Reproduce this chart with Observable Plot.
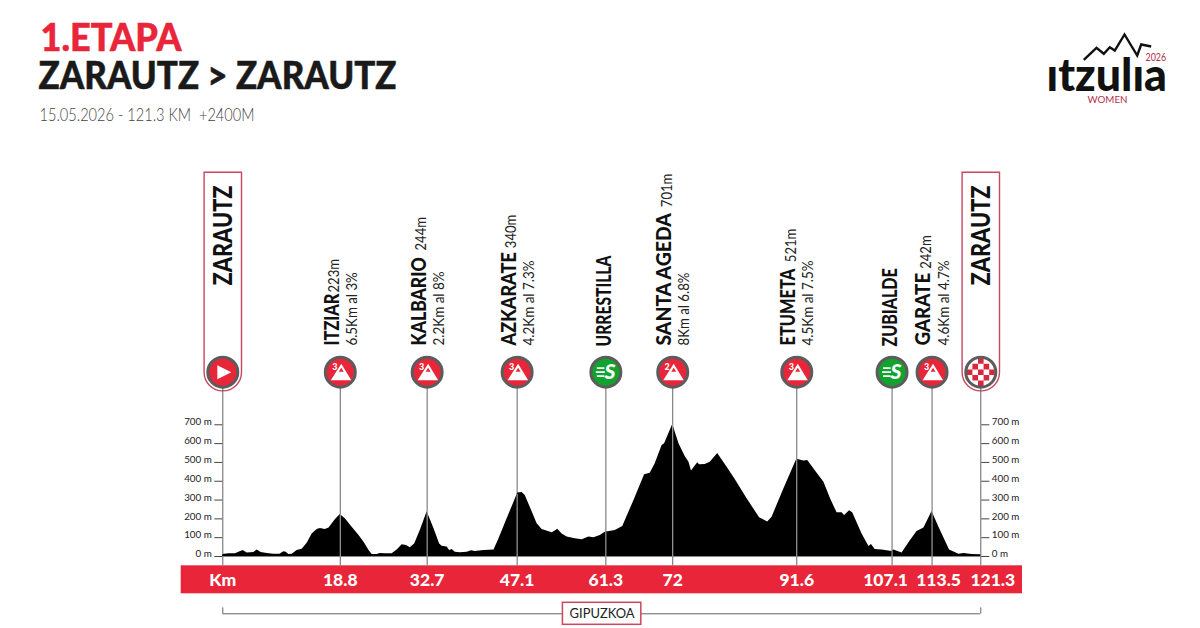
<!DOCTYPE html>
<html><head><meta charset="utf-8">
<script src="https://cdn.jsdelivr.net/npm/d3@7"></script>
<script src="https://cdn.jsdelivr.net/npm/@observablehq/plot@0.6"></script>
<style>html,body{margin:0;padding:0;background:#fff}svg{display:block}</style>
</head><body><div id="chart"></div>
<script>
const profileKm = [0,0.97,2.03,2.57,3.26,3.9,4.97,5.5,6.14,7.1,8.17,9.13,9.77,10.14,10.57,11.1,11.9,12.7,13.5,14.3,15.1,15.6,16.4,17,18,18.8,19.6,20.7,21.8,22.6,23.4,23.9,24.7,25.2,26,27.1,27.9,28.7,29.4,30,30.7,31.6,32.7,33.8,34.7,35.1,35.9,36.3,36.7,37.2,38,39.1,39.8,40.4,41.8,43.4,44.2,45.5,46.6,47.2,47.9,48.4,49.2,50.3,51.1,52.7,53.2,53.6,54.3,55.1,56.4,57.5,58.6,59.4,60.4,61.2,62.8,64,65.8,67.5,68.4,69.2,70.3,70.7,72,73,74,74.6,75,76,76.3,77.2,78,79.2,80.7,82,83.9,85.9,87.2,87.9,89.8,91.85,93,93.6,95.2,96.2,97.25,98.3,99.1,99.5,100.3,100.8,102.3,103.4,103.8,104.4,105.5,107.1,107.4,108.7,110.05,111.1,112.2,113.5,114.6,116.3,117.8,118.6,119.9,121.3];
const profileM = [11,14,14,23,32,19,21,35,21,16,12,12,25,23,11,12,32,39,71,120,144,149,144,152,195,223,200,156,112,76,32,11,11,16,14,14,35,62,58,46,67,138,238,147,67,55,50,32,37,23,20,23,30,27,32,35,94,200,289,338,340,324,262,174,144,126,135,145,120,103,94,89,103,99,112,129,138,159,298,434,443,493,590,599,701,599,532,501,454,498,487,489,501,548,475,409,307,206,183,209,360,517,507,510,439,395,307,232,232,218,243,232,120,53,64,37,34,27,35,19,85,133,151,239,156,35,12,16,11,9];

const elevationTicks = [0,100,200,300,400,500,600,700];

const stops = ["Km","18.8","32.7","47.1","61.3","72","91.6","107.1","113.5","121.3"];
const stopKm = [0,18.8,32.7,47.1,61.3,72,91.85,107.1,113.5,121.3];
const stopLabelShift = [0,0,0,0,0,0,0,-6.5,6.5,12];

const climbNames = ["ITZIAR","KALBARIO","AZKARATE","SANTA AGEDA","ETUMETA","GARATE"];
const climbKm = [18.8,32.7,47.1,72,91.85,113.5];
const climbHeights = ["223m","244m","340m","701m","521m","242m"];
const climbDetails = ["6.5Km al 3%","2.2Km al 8%","4.2Km al 7.3%","8Km al 6.8%","4.5Km al 7.5%","4.6Km al 4.7%"];
const climbCats = ["3","3","3","2","3","3"];
const heightLabelBottom = [292,250,247.7,206.7,261.7,268.3];
const nameLength = [52,88.3,93.3,132.3,76.7,72.7];
const detailLength = [73.3,74,85,73,85,85];

const sprintNames = ["URRESTILLA","ZUBIALDE"];
const sprintKm = [61.3,107.1];
const sprintLength = [91,78.3];

const endNames = ["ZARAUTZ","ZARAUTZ"];
const endKm = [0,121.3];

const title1 = "1.ETAPA";
const title2 = "ZARAUTZ > ZARAUTZ";
const subtitle = "15.05.2026 - 121.3 KM  +2400M";
const region = "GIPUZKOA";

const RED = "#e9253a", GREEN = "#12a32f", RING = "#5c5c5c", PILL = "#c9475f";
const HEAD = "Lato, 'Open Sans', sans-serif";
const mT = 424.3, mL = 222.3, mR = 219.7, mB = 72;
const fromTop = y => y - mT;
const iconY = fromTop(371.7);

const sym = draw => ({draw});
const pillSymbol = sym(c => { const r=18.7; c.moveTo(-r,-200); c.lineTo(r,-200); c.lineTo(r,0); c.arc(0,0,r,0,Math.PI); c.closePath(); });
const playSymbol = sym(c => { c.moveTo(-5.5,-7); c.lineTo(8.5,0); c.lineTo(-5.5,7); c.closePath(); });
const mountainSymbol = sym(c => {
  c.moveTo(1,-8.5); c.lineTo(11,8); c.lineTo(-9.5,8); c.closePath();
  c.moveTo(1,-4.5); c.lineTo(-1.5,-0.5); c.lineTo(3.5,-0.5); c.closePath();
});
const speedSymbol = sym(c => { [[-9,-5,7.5],[-10,-1,9],[-9,3,7.5]].forEach(([x,y,w]) => c.rect(x,y,w,1.8)); });
const checkerSymbol = sym(c => {
  const s = 5.6;
  for (let i=-2;i<=2;i++) for (let j=-2;j<=2;j++) {
    if ((i+j)%2===0 && Math.hypot(i,j)<2.5) c.rect(i*s-s/2,j*s-s/2,s,s);
  }
});
const logoPeaks = sym(c => {
  const p=[[-36.7,9.3],[-24,-2.7],[-16.7,3.3],[-10.7,-3.3],[-5.7,0],[4,-16],[16.7,5],[20.7,-6],[30.7,-4]];
  p.forEach(([x,y],i)=> i? c.lineTo(x,y): c.moveTo(x,y));
});

// squeeze a text to the length it has in the reference
const fit = len => ({render(index,scales,values,dims,ctx,next){
  const g = next(index,scales,values,dims,ctx);
  g.querySelectorAll("text").forEach(t=>{
    t.style.whiteSpace="pre";
    t.setAttribute("textLength",len);
    t.setAttribute("lengthAdjust","spacingAndGlyphs");
  });
  return g;
}});
const pageText = (s,x,y,len,o) => Plot.text([s],{text:d=>d,frameAnchor:"top-left",dx:x-mL,dy:y-mT,textAnchor:"start",lineAnchor:"middle",...fit(len),...o});
const vText = (s,km,dx,bottom,len,o) => Plot.text([s],{text:d=>d,x:()=>km,frameAnchor:"top",dx,dy:fromTop(bottom),rotate:-90,textAnchor:"start",lineAnchor:"middle",...fit(len),...o});
const disc = (kms,o) => Plot.dot(kms,{x:d=>d,frameAnchor:"top",dy:iconY,r:15,...o});

const profile = profileKm.map((km,i)=>({km,m:profileM[i]}));
const elevAt = km => { const i = profileKm.findIndex(k=>k>=km); if (profileKm[i]===km||i===0) return profileM[i]; const t=(km-profileKm[i-1])/(profileKm[i]-profileKm[i-1]); return profileM[i-1]+t*(profileM[i]-profileM[i-1]); };
const climbIdx = d3.range(climbNames.length);
const axisStyle = {ticks:elevationTicks,label:null};
const axisText = {...axisStyle,tickFormat:d=>`${d} m`,tickSize:0,tickPadding:11,dy:-2.5,fontSize:9.8,fontFamily:HEAD,stroke:"none",fill:"#222"};
const axisTick = {...axisStyle,tickSize:8,stroke:"#444",fill:"none"};

const marks = [
  // heading
  pageText(title1,40,39,141,{fontFamily:HEAD,fontWeight:900,fontSize:37,fill:RED,stroke:RED,strokeWidth:0.5}),
  pageText(title2,38,76.5,358,{fontFamily:HEAD,fontWeight:900,fontSize:37,fill:"#1a1a1a",stroke:"#1a1a1a",strokeWidth:0.5}),
  pageText(subtitle,39,115.5,215,{fontFamily:HEAD,fontWeight:300,fontSize:17,fill:"#444"}),
  // logo
  Plot.dot([0],{frameAnchor:"top-left",dx:1120-mL,dy:50-mT,r:5,symbol:logoPeaks,fill:"none",stroke:"#111",strokeWidth:2.4}),
  pageText("ıtzulıa",1046,76,120.5,{fontFamily:HEAD,fontWeight:900,fontSize:46,fill:"#111"}),
  pageText("2026",1145,56.5,20.7,{fontFamily:HEAD,fontSize:11,fill:"#b2304c"}),
  pageText("WOMEN",1087,100,40,{fontFamily:HEAD,fontSize:8.5,fill:"#b2304c"}),
  // start/finish pills
  disc(endKm,{symbol:pillSymbol,fill:"#fff",stroke:PILL,strokeWidth:1.4}),
  // drop lines
  Plot.ruleX(stopKm,{stroke:"#666",strokeWidth:1,insetTop:iconY,insetBottom:-9.3}),
  // km band
  Plot.rect([0],{x1:()=>0,x2:()=>121.3,insetLeft:-41.6,insetRight:-41.7,insetTop:141,insetBottom:-37.3,fill:RED}),
  // profile
  Plot.areaY(profile,{x:"km",y:"m",fill:"#000"}),
  Plot.ruleX(stopKm.slice(1,-1),{x:d=>d,y1:0,y2:elevAt,stroke:"#bbb",strokeWidth:1}),
  Plot.ruleY([0],{x1:0,x2:121.3,stroke:"#888",strokeWidth:1}),
  // axes
  Plot.axisY({anchor:"left",...axisTick}),
  Plot.axisY({anchor:"right",...axisTick}),
  Plot.axisY({anchor:"left",...axisText}),
  Plot.axisY({anchor:"right",...axisText}),
  // km labels
  ...stops.map((s,i)=>Plot.text([s],{text:d=>d,x:()=>stopKm[i],frameAnchor:"top",dx:stopLabelShift[i],dy:fromTop(580),lineAnchor:"middle",fontFamily:HEAD,fontWeight:900,fontSize:17.5,fill:"#fff"})),
  // climbs
  ...climbIdx.flatMap(i=>[
    vText(climbNames[i],climbKm[i],-8,345,nameLength[i],{fontFamily:HEAD,fontWeight:900,fontSize:20,fill:"#111"}),
    vText(climbHeights[i],climbKm[i],-5.5,heightLabelBottom[i],33.5,{fontFamily:HEAD,fontWeight:400,fontSize:14.5,fill:"#222"}),
    vText(climbDetails[i],climbKm[i],12,345,detailLength[i],{fontFamily:HEAD,fontWeight:400,fontSize:14.5,fill:"#222"})
  ]),
  ...sprintNames.map((s,i)=>vText(s,sprintKm[i],-1.5,346,sprintLength[i],{fontFamily:HEAD,fontWeight:900,fontSize:20,fill:"#111"})),
  ...endNames.map((s,i)=>vText(s,endKm[i],1,285,100,{fontFamily:HEAD,fontWeight:900,fontSize:27,fill:"#111"})),
  // icons
  disc(climbKm,{fill:RED,stroke:RING,strokeWidth:3}),
  disc(climbKm,{symbol:mountainSymbol,fill:"#fff"}),
  ...climbCats.map((c,i)=>Plot.text([c],{text:d=>d,x:()=>climbKm[i],frameAnchor:"top",dx:-5.5,dy:iconY-5.5,lineAnchor:"middle",fontFamily:HEAD,fontWeight:900,fontSize:9,fill:"#fff"})),
  disc(sprintKm,{fill:GREEN,stroke:RING,strokeWidth:3}),
  disc(sprintKm,{symbol:speedSymbol,fill:"#fff"}),
  ...sprintKm.map(k=>Plot.text(["S"],{text:d=>d,x:()=>k,frameAnchor:"top",dx:4,dy:iconY,lineAnchor:"middle",fontFamily:HEAD,fontWeight:900,fontStyle:"italic",fontSize:21,fill:"#fff"})),
  disc([0],{fill:RED,stroke:RING,strokeWidth:3}),
  disc([0],{symbol:playSymbol,fill:"#fff"}),
  disc([121.3],{fill:"#fff",stroke:"none"}),
  disc([121.3],{symbol:checkerSymbol,fill:"#d8263c"}),
  disc([121.3],{fill:"none",stroke:RING,strokeWidth:3}),
  // region bracket
  Plot.ruleY([0],{x1:0,x2:121.3,dy:57.3,stroke:"#666",strokeWidth:1}),
  Plot.ruleX(endKm,{x:d=>d,insetTop:183,insetBottom:-57.3,stroke:"#666",strokeWidth:1}),
  Plot.rect([0],{x1:()=>60.7,x2:()=>60.7,insetLeft:-39.2,insetRight:-39.2,insetTop:178,insetBottom:-68.3,fill:"#fff",stroke:PILL,strokeWidth:1.5}),
  Plot.text([region],{text:d=>d,x:()=>60.7,frameAnchor:"top",dy:fromTop(613.5),lineAnchor:"middle",fontFamily:HEAD,fontSize:13.5,fill:"#222",...fit(65)})
];

const chart = Plot.plot({
  width:1200,height:628,
  marginTop:mT,marginLeft:mL,marginRight:mR,marginBottom:mB,
  x:{domain:[0,121.3],axis:null},
  y:{domain:[0,700],axis:null},
  style:{background:"#fff",overflow:"visible"},
  marks
});
document.getElementById("chart").append(chart);
</script></body></html>
